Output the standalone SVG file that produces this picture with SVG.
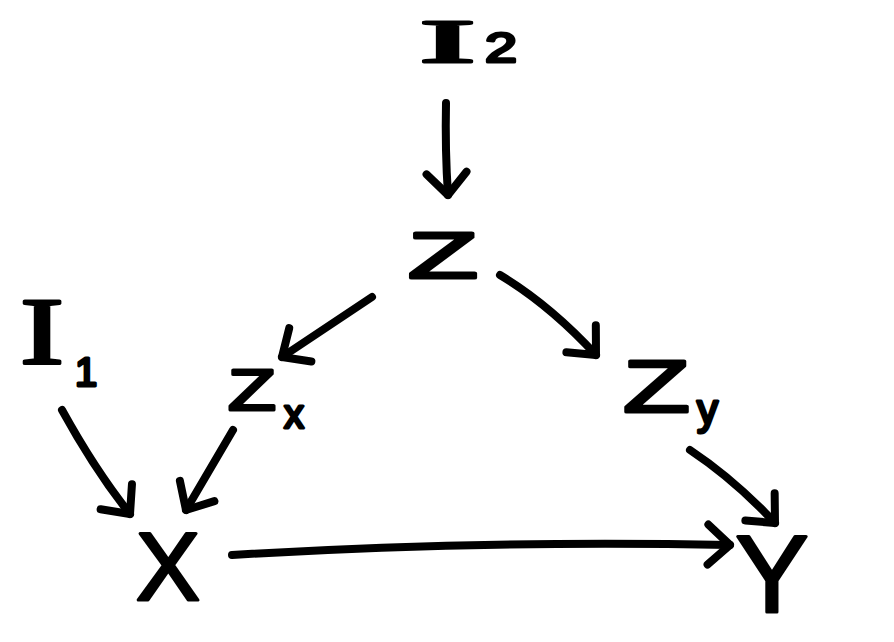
<svg xmlns="http://www.w3.org/2000/svg" width="894" height="642" viewBox="0 0 894 642">
<style>
.lbl{font-family:"Liberation Sans",Arial,sans-serif;fill:#000;stroke:#000;stroke-width:3;stroke-linejoin:round}
.serif{font-family:"Liberation Serif","Times New Roman",serif}
.edge{fill:none;stroke:#000;stroke-width:8;stroke-linecap:round;stroke-linejoin:round}
</style>
<defs>
<marker id="ah" markerUnits="userSpaceOnUse" markerWidth="60" markerHeight="60" refX="30" refY="30" orient="auto">
<path d="M8,10 L30,30 L8,50" fill="none" stroke="#000" stroke-width="8" stroke-linecap="round" stroke-linejoin="round"/>
</marker>
</defs>
<rect width="894" height="642" fill="#fff"/>
<g id="connectors">
<path class="edge" d="M446,103 Q445,150 448,195" marker-end="url(#ah)"/>
<path class="edge" d="M372,297 L282,357" marker-end="url(#ah)"/>
<path class="edge" d="M233,430 L186,510" marker-end="url(#ah)"/>
<path class="edge" d="M62,410 Q95,470 130,514" marker-end="url(#ah)"/>
<path class="edge" d="M500,275 Q550,305 596,355" marker-end="url(#ah)"/>
<path class="edge" d="M690,450 Q735,480 775,523" marker-end="url(#ah)"/>
<path class="edge" d="M232,555 Q480,540 730,545" marker-end="url(#ah)"/>
</g>
<g id="I2"><text class="lbl serif" x="420" y="62" font-size="62" textLength="55" lengthAdjust="spacingAndGlyphs">I</text><text class="lbl" x="485" y="62" font-size="42" textLength="32" lengthAdjust="spacingAndGlyphs">2</text></g>
<g id="Z"><text class="lbl" x="408" y="278" font-size="64" textLength="70" lengthAdjust="spacingAndGlyphs">Z</text></g>
<g id="I1"><text class="lbl serif" x="20" y="364" font-size="96" textLength="44" lengthAdjust="spacingAndGlyphs">I</text><text class="lbl" x="75" y="386" font-size="40">1</text></g>
<g id="Zx"><text class="lbl" x="228" y="410" font-size="58" textLength="48" lengthAdjust="spacingAndGlyphs">Z</text><text class="lbl" x="284" y="428" font-size="40">x</text></g>
<g id="Zy"><text class="lbl" x="623" y="412" font-size="74" textLength="67" lengthAdjust="spacingAndGlyphs">Z</text><text class="lbl" x="697" y="424" font-size="42">y</text></g>
<g id="X"><text class="lbl" x="168" y="600" font-size="96" text-anchor="middle">X</text></g>
<g id="Y"><text class="lbl" x="772" y="612" font-size="110" text-anchor="middle">Y</text></g>
</svg>
